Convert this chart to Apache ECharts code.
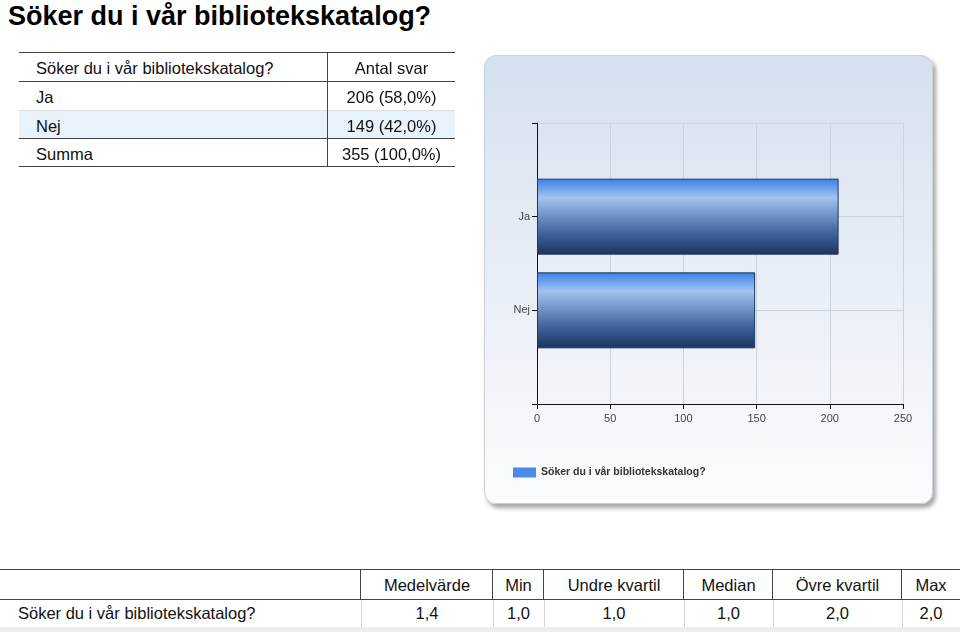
<!DOCTYPE html>
<html>
<head>
<meta charset="utf-8">
<script src="https://cdn.jsdelivr.net/npm/echarts@6/dist/echarts.min.js"></script>
<style>
  html, body { margin:0; padding:0; background:#fff; }
  body { width:960px; height:632px; position:relative; overflow:hidden; font-family:'Liberation Sans', Arial, sans-serif; color:#111; }
  .abs { position:absolute; }
  .txt { position:absolute; white-space:nowrap; font-size:16.5px; line-height:20px; }
  .hl { position:absolute; height:0; }
  .vl { position:absolute; width:0; }
  #panel { position:absolute; left:484px; top:55px; width:447px; height:447px; border-radius:12px;
           background:linear-gradient(to bottom, #d5e1ef 0%, #e2eaf4 35%, #f2f5fa 75%, #fbfcfd 100%);
           border:1px solid #c9d0d8; box-shadow:3px 4px 4px rgba(0,0,0,0.35); }
  #chart { position:absolute; left:484px; top:55px; width:448px; height:448px; }
</style>
</head>
<body>
<div id="panel"></div>
<div id="chart"></div>
<script>
// ---- data ----
var pageTitle = 'Söker du i vår bibliotekskatalog?';
var questionLabel = 'Söker du i vår bibliotekskatalog?';
var countHeader = 'Antal svar';
var categories = ['Ja', 'Nej'];
var counts = [206, 149];
var totalLabel = 'Summa';
var statHeaders = ['Medelvärde', 'Min', 'Undre kvartil', 'Median', 'Övre kvartil', 'Max'];
var statValues = ['1,4', '1,0', '1,0', '1,0', '2,0', '2,0'];
var xTicks = [0, 50, 100, 150, 200, 250];

// ---- helpers ----
function fmtPct(v, t) { return (v / t * 100).toFixed(1).replace('.', ',') + '%'; }
function addText(str, x, y, opts) {
  opts = opts || {};
  var d = document.createElement('div');
  d.className = 'txt';
  d.textContent = str;
  d.style.top = (y - 10) + 'px';
  if (opts.center !== undefined) {
    d.style.left = (opts.center - 200) + 'px'; d.style.width = '400px'; d.style.textAlign = 'center';
  } else { d.style.left = x + 'px'; }
  if (opts.size) d.style.fontSize = opts.size + 'px';
  if (opts.weight) d.style.fontWeight = opts.weight;
  if (opts.color) d.style.color = opts.color;
  document.body.appendChild(d);
  return d;
}
function hLine(x1, x2, y, w, c) {
  var d = document.createElement('div'); d.className = 'hl';
  d.style.left = x1 + 'px'; d.style.width = (x2 - x1) + 'px'; d.style.top = (y - w / 2) + 'px';
  d.style.borderTop = w + 'px solid ' + c; document.body.appendChild(d);
}
function vLine(x, y1, y2, w, c) {
  var d = document.createElement('div'); d.className = 'vl';
  d.style.top = y1 + 'px'; d.style.height = (y2 - y1) + 'px'; d.style.left = (x - w / 2) + 'px';
  d.style.borderLeft = w + 'px solid ' + c; document.body.appendChild(d);
}
function rect(x, y, w, h, c) {
  var d = document.createElement('div'); d.className = 'abs';
  d.style.left = x + 'px'; d.style.top = y + 'px'; d.style.width = w + 'px'; d.style.height = h + 'px';
  d.style.background = c; document.body.appendChild(d);
}

// ---- title ----
var t = addText(pageTitle, 8, 15, { size: 27, weight: 'bold', color: '#000' });
t.style.lineHeight = '30px'; t.style.top = '1px';

// ---- frequency table ----
var total = counts.reduce(function (a, b) { return a + b; }, 0);
var T = { left: 19, right: 455, div: 328, rows: [53, 82, 110, 139, 167] };
rect(T.left, 110, T.right - T.left, 29, '#e8f2fb');
hLine(T.left, T.right, 53, 1.5, '#444');
hLine(T.left, T.right, 82, 1.5, '#444');
hLine(T.left, T.right, 110, 1, '#d8dde2');
hLine(T.left, T.right, 139, 1.5, '#444');
hLine(T.left, T.right, 167, 1.5, '#444');
vLine(T.div, 53, 167, 1.5, '#444');
var colC = (T.div + T.right) / 2;
addText(questionLabel, 36, 68);
addText(countHeader, 0, 68, { center: colC });
for (var i = 0; i < categories.length; i++) {
  var cy = (T.rows[i + 1] + T.rows[i + 2]) / 2 + 1;
  addText(categories[i], 36, cy);
  addText(counts[i] + ' (' + fmtPct(counts[i], total) + ')', 0, cy, { center: colC });
}
addText(totalLabel, 36, 154);
addText(total + ' (' + fmtPct(total, total) + ')', 0, 154, { center: colC });

// ---- stats table ----
var cols = [0, 361, 493, 544, 684, 773, 902, 960];
rect(0, 627, 960, 5, '#ededed');
hLine(0, 960, 570, 1.5, '#444');
hLine(0, 960, 599.5, 1.5, '#444');
for (var c = 1; c < cols.length - 1; c++) {
  vLine(cols[c], 570, 599, 1.5, '#444');
  vLine(cols[c], 600, 627, 1, '#d6d6d6');
}
for (var k = 0; k < statHeaders.length; k++) {
  var cx = (cols[k + 1] + cols[k + 2]) / 2;
  addText(statHeaders[k], 0, 585, { center: cx });
  addText(statValues[k], 0, 613, { center: cx });
}
addText(questionLabel, 18, 613);

// ---- chart ----
var chart = echarts.init(document.getElementById('chart'), null, { renderer: 'canvas' });
var yCats = [' '].concat(categories).concat(['  ']);
var barData = ['-'].concat(counts).concat(['-']);
var axisFont = { fontFamily: 'Liberation Sans, Arial, sans-serif', fontSize: 11, color: '#444' };
chart.setOption({
  backgroundColor: 'transparent',
  animation: false,
  grid: { left: 53, top: 68, width: 366, height: 281, containLabel: false },
  xAxis: {
    type: 'value', min: 0, max: 250, interval: 50,
    axisLine: { show: true, lineStyle: { color: '#111', width: 1 } },
    axisTick: { show: true, length: 5, lineStyle: { color: '#111' } },
    axisLabel: Object.assign({ margin: 9, formatter: function (v) { return xTicks.indexOf(v) >= 0 ? String(v) : ''; } }, axisFont),
    splitLine: { show: true, lineStyle: { color: '#cbd3de', width: 1 } }
  },
  yAxis: {
    type: 'category', data: yCats, inverse: true, boundaryGap: false,
    axisLine: { show: true, lineStyle: { color: '#111', width: 1 } },
    axisTick: { show: true, length: 5, lineStyle: { color: '#111' } },
    axisLabel: Object.assign({ margin: 7 }, axisFont),
    splitLine: { show: true, lineStyle: { color: '#cbd3de', width: 1 } }
  },
  legend: {
    left: 24, top: 407, itemWidth: 23, itemHeight: 10, icon: 'rect', itemGap: 10,
    textStyle: { fontFamily: 'Liberation Sans, Arial, sans-serif', fontSize: 10.5, color: '#333', fontWeight: 'bold' },
    data: [{ name: questionLabel, itemStyle: { color: '#4a8ae8', borderWidth: 0 } }]
  },
  series: [{
    type: 'bar', name: questionLabel, data: barData, barWidth: 76,
    itemStyle: {
      borderColor: '#1d3863', borderWidth: 1,
      color: new echarts.graphic.LinearGradient(0, 0, 0, 1, [
        { offset: 0, color: '#3e7ede' },
        { offset: 0.08, color: '#5a96ea' },
        { offset: 0.25, color: '#a3c3f0' },
        { offset: 0.5, color: '#6c8fc4' },
        { offset: 0.75, color: '#3a5e94' },
        { offset: 1, color: '#1b345e' }
      ])
    }
  }]
});
</script>
</body>
</html>
